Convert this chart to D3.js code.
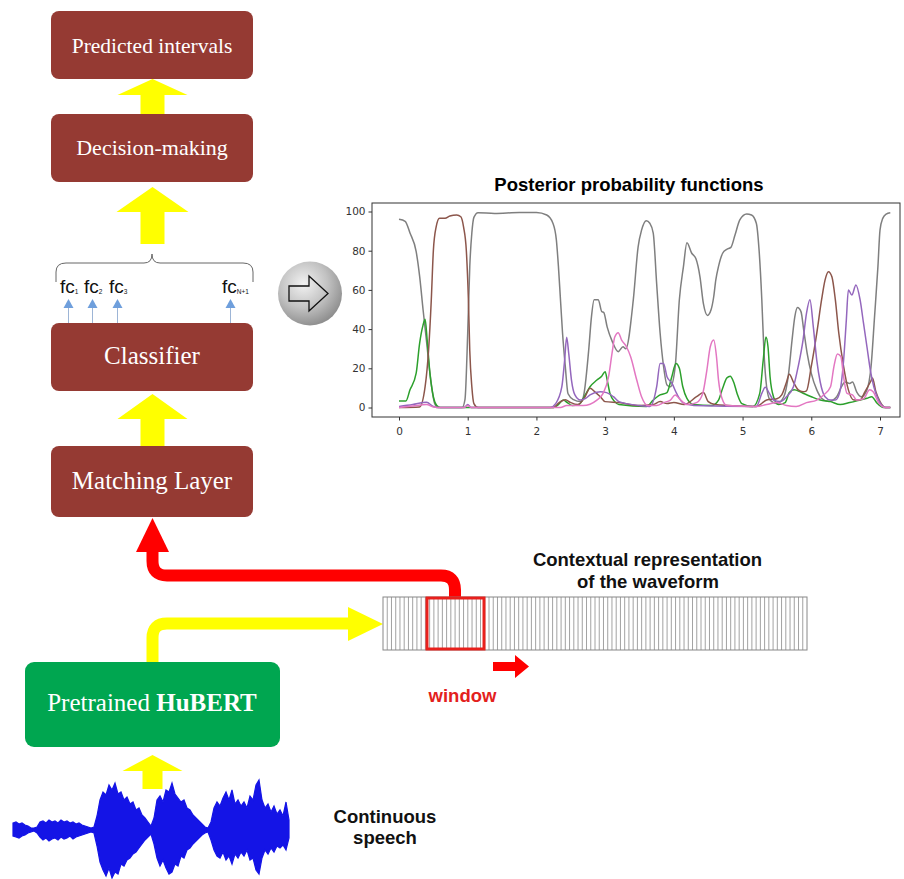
<!DOCTYPE html>
<html>
<head>
<meta charset="utf-8">
<script src="https://cdn.jsdelivr.net/npm/d3@7"></script>
<style>
  body { margin: 0; background: #fff; }
  svg { display: block; }
</style>
</head>
<body>
<svg id="fig" width="904" height="879"></svg>
<script>
// Posterior curves: [time (s), probability %]
const grayPts = [[0,96],[0.09,95],[0.16,89],[0.25,79.5],[0.3,67],[0.35,50],[0.4,34],[0.45,17.5],[0.52,2],[0.57,0],[0.92,0],[0.96,4],[1.0,38],[1.03,72],[1.06,89],[1.09,97],[1.15,99.4],[1.39,99],[1.75,99.5],[2.0,99.5],[2.15,98.2],[2.24,94],[2.29,85.5],[2.32,72],[2.35,55],[2.38,38],[2.42,21],[2.46,7],[2.54,4],[2.64,3],[2.68,5],[2.76,29],[2.8,46],[2.84,55],[2.9,55],[2.95,49],[2.98,48.5],[3.03,41],[3.1,34],[3.19,28.5],[3.26,31],[3.3,30],[3.41,55],[3.48,82],[3.53,90.5],[3.6,95.3],[3.65,94],[3.7,89],[3.75,63],[3.8,38],[3.85,21],[3.9,11.5],[3.95,10.6],[4.02,21],[4.08,55],[4.14,72],[4.19,84],[4.26,78.7],[4.32,76],[4.38,66.7],[4.43,53],[4.49,47],[4.54,49.7],[4.58,56.5],[4.61,65],[4.65,72],[4.71,78.7],[4.77,80.7],[4.83,81.7],[4.89,88],[4.96,95.7],[5.06,98.7],[5.13,98.2],[5.2,94],[5.24,80.4],[5.28,55],[5.31,29.3],[5.35,10.6],[5.4,3.8],[5.5,2],[5.6,5.5],[5.67,17.4],[5.72,34.4],[5.76,46.3],[5.8,51],[5.85,48.9],[5.89,39.5],[5.94,27.6],[6.0,17.4],[6.08,9],[6.15,4.7],[6.25,3],[6.37,5.5],[6.44,10.6],[6.49,13],[6.56,12.3],[6.6,13],[6.66,8],[6.73,5.5],[6.81,9],[6.87,21],[6.92,46],[6.97,72],[7.0,90.5],[7.04,96.5],[7.09,98.7],[7.15,99.4]];
const brownPts = [[0,0],[0.3,0.3],[0.38,10.6],[0.43,29],[0.47,55],[0.5,80],[0.54,92],[0.59,96.5],[0.67,96.5],[0.74,97.7],[0.84,98.2],[0.9,97.3],[0.94,92],[0.98,80],[1.01,55],[1.03,29],[1.06,10.6],[1.09,2],[1.15,0],[2.25,0],[2.33,2.5],[2.42,4],[2.5,2.5],[2.6,1.5],[2.7,5],[2.78,9.8],[2.85,8],[2.93,5.5],[3.0,3],[3.2,2.5],[3.5,1],[3.7,1.5],[3.8,3],[3.9,2],[4.0,2.5],[4.15,1.5],[4.33,5.5],[4.43,7.6],[4.5,3],[4.6,1.5],[4.8,1],[5.2,0.5],[5.35,3.8],[5.5,4.5],[5.57,6.4],[5.64,13],[5.68,17],[5.74,13],[5.81,9],[5.88,8],[5.93,8.5],[6.0,21],[6.08,38],[6.15,55],[6.2,65],[6.25,69.3],[6.3,66.7],[6.35,55],[6.4,38],[6.47,21],[6.54,9],[6.62,3.8],[6.71,3.8],[6.78,8],[6.86,13],[6.89,15],[6.94,8],[7.0,3],[7.08,0],[7.15,0]];
const greenPts = [[0,3.3],[0.1,3.3],[0.16,9],[0.25,17.5],[0.3,32.7],[0.35,42],[0.38,45],[0.41,34.4],[0.45,17.5],[0.5,5.5],[0.55,1],[0.6,0],[2.25,0],[2.32,1.5],[2.39,3.8],[2.45,2.5],[2.52,1],[2.62,1.5],[2.71,6.4],[2.78,10.6],[2.88,14],[2.95,16],[3.0,18.3],[3.03,14],[3.07,7.2],[3.14,3],[3.2,1.5],[3.6,0.5],[3.7,3.8],[3.8,6.4],[3.9,7.6],[3.97,15.7],[4.03,22.5],[4.08,20],[4.13,10.6],[4.19,4.7],[4.29,1.5],[4.55,1],[4.65,3.8],[4.71,9.8],[4.77,15],[4.82,16],[4.87,13],[4.92,7.2],[4.99,2],[5.15,0.5],[5.25,7.2],[5.3,24],[5.34,36],[5.37,31],[5.4,15.7],[5.45,5.5],[5.52,1.5],[5.62,2.5],[5.68,7.6],[5.75,9],[5.84,8],[5.9,7],[6.0,5.5],[6.13,3.8],[6.28,3],[6.42,1.5],[6.56,2.5],[6.71,3.8],[6.81,4.7],[6.88,5.5],[6.95,2.5],[7.05,0],[7.15,0]];
const purplePts = [[0,0.5],[0.2,1.5],[0.4,2.7],[0.5,0.5],[0.55,0],[0.95,0],[1.0,1.5],[1.05,0],[2.2,0],[2.28,2],[2.37,10.6],[2.41,24],[2.44,35.8],[2.47,27.6],[2.51,14],[2.56,6.4],[2.64,3.8],[2.71,4.5],[2.78,6.4],[2.93,8],[3.02,7.6],[3.12,5.5],[3.2,3],[3.5,1],[3.65,0.5],[3.75,10.6],[3.8,22.5],[3.85,22.5],[3.9,15.7],[3.97,12.5],[4.04,7.2],[4.13,2.5],[4.29,1],[5.2,0.5],[5.28,7.2],[5.33,10.3],[5.39,7.2],[5.45,3.8],[5.55,3],[5.64,5.5],[5.74,10.6],[5.81,21],[5.88,34.4],[5.93,48],[5.98,55],[6.03,41],[6.08,24],[6.13,13],[6.2,5.5],[6.28,3.8],[6.35,3.8],[6.41,7.2],[6.47,24],[6.51,44.6],[6.54,60],[6.59,57.4],[6.65,62.5],[6.71,55],[6.76,43],[6.81,31],[6.86,19],[6.91,10.6],[6.98,3.8],[7.08,0],[7.15,0]];
const pinkPts = [[0,0],[0.2,0.8],[0.4,1.5],[0.5,0.3],[0.55,0],[0.95,0],[1.0,1],[1.05,0],[2.35,0],[2.44,1],[2.68,1],[2.88,3.8],[2.97,7.2],[3.05,15.7],[3.1,27.6],[3.14,36],[3.19,38.2],[3.24,34.4],[3.31,31],[3.37,26],[3.46,14],[3.53,5.5],[3.62,1],[3.75,1],[3.85,2.5],[3.95,3.8],[4.02,6.4],[4.08,4.5],[4.19,1.5],[4.33,2.5],[4.42,7.2],[4.48,19],[4.53,31],[4.58,34.4],[4.62,26],[4.65,14],[4.7,4.7],[4.77,1],[5.2,0.5],[5.35,1.5],[5.5,2.5],[5.64,1],[5.78,0.5],[5.93,2.5],[6.08,3.8],[6.18,6.4],[6.28,10.6],[6.33,21],[6.38,27.3],[6.43,26],[6.47,15.7],[6.52,7.2],[6.6,6.4],[6.66,3.8],[6.76,4.5],[6.85,9],[6.9,8],[6.98,2.5],[7.08,0],[7.15,0]];

const xTicks = [0, 1, 2, 3, 4, 5, 6, 7];
const yTicks = [0, 20, 40, 60, 80, 100];

// pipeline boxes, bottom label has a bold part
const boxLabels = ["Predicted intervals", "Decision-making", "Classifier", "Matching Layer"];
const fcSubs = ["1", "2", "3", "N+1"];

// speech waveform envelope (px above / below centre), one value every 3px
const waveTop = [7,8,6,7,5,4,2,2,3,8,9,7,10,8,9,7,10,8,9,7,8,6,7,5,4,3,2,3,14,30,38,35,45,40,47,36,38,30,33,26,28,20,22,15,12,8,4,12,30,34,28,40,38,47,36,32,28,30,22,20,15,12,9,6,3,2,8,22,28,24,32,38,30,40,26,30,24,28,22,34,30,45,50,30,22,26,18,24,16,20,14,28,10];
const waveBot = [6,7,8,6,5,3,2,1,3,7,10,8,11,9,8,10,7,9,8,6,9,7,6,5,4,3,2,3,16,32,40,46,38,48,42,44,34,36,30,28,24,22,18,14,10,7,4,14,28,36,30,38,44,42,34,36,26,28,20,18,14,11,8,5,3,2,10,20,26,28,22,30,26,34,24,28,22,26,20,30,28,40,44,28,20,24,18,22,16,18,15,20,8];
const stripCells = 100;

const svg = d3.select("#fig");
svg.append("rect").attr("width", 904).attr("height", 879).attr("fill", "#fff");

const defs = svg.append("defs");
const grad = defs.append("radialGradient").attr("id", "ball")
    .attr("cx", "40%").attr("cy", "35%").attr("r", "68%");
grad.append("stop").attr("offset", "0%").attr("stop-color", "#f2f2f2");
grad.append("stop").attr("offset", "55%").attr("stop-color", "#c2c2c2");
grad.append("stop").attr("offset", "100%").attr("stop-color", "#8c8c8c");

const RED_BOX = "#953a33";
const YEL = "#ffff00";
const serif = "'Liberation Serif', 'Times New Roman', serif";
const sans = "'Liberation Sans', Arial, sans-serif";

// ---------- left column boxes ----------
const boxes = [
    {y: 11, h: 68, size: 21.5, base: 53},
    {y: 114, h: 68, size: 22, base: 155},
    {y: 323, h: 68, size: 25, base: 364},
    {y: 446, h: 71, size: 25, base: 489}
];
boxes.forEach(function(b, i) {
    svg.append("rect").attr("x", 51).attr("y", b.y).attr("width", 202).attr("height", b.h)
        .attr("rx", 8).attr("fill", RED_BOX);
    svg.append("text").attr("x", 152).attr("y", b.base).attr("text-anchor", "middle")
        .attr("font-family", serif).attr("font-size", b.size).attr("fill", "#fff")
        .text(boxLabels[i]);
});

// HuBERT box
svg.append("rect").attr("x", 25).attr("y", 662).attr("width", 255).attr("height", 85)
    .attr("rx", 9).attr("fill", "#00a650");
const hub = svg.append("text").attr("x", 152).attr("y", 711).attr("text-anchor", "middle")
    .attr("font-family", serif).attr("font-size", 25).attr("fill", "#fff");
hub.append("tspan").text("Pretrained ");
hub.append("tspan").attr("font-weight", "bold").text("HuBERT");

// block up-arrows
function upArrow(cx, apex, base, half, stemHalf, bottom) {
    const pts = [[cx, apex], [cx + half, base], [cx + stemHalf, base], [cx + stemHalf, bottom],
                 [cx - stemHalf, bottom], [cx - stemHalf, base], [cx - half, base]];
    svg.append("polygon").attr("points", pts.map(p => p.join(",")).join(" "))
        .attr("fill", YEL);
}
upArrow(152.5, 79, 95, 35, 12, 114);
upArrow(152.5, 187, 212, 36, 12, 244);
upArrow(152.5, 394, 419, 35, 12, 446);
upArrow(152.5, 755, 771, 30, 10, 789);

// brace over the fc outputs
svg.append("path")
    .attr("d", "M56,282 L56,272 Q56,263 66,263 L144,263 Q152,263 152,254 Q152,263 160,263 L243,263 Q253,263 253,272 L253,282")
    .attr("fill", "none").attr("stroke", "#666").attr("stroke-width", 1);

// fc labels and little blue arrows
const fcX = [60, 84, 109, 222];
fcSubs.forEach(function(s, i) {
    const t = svg.append("text").attr("x", fcX[i]).attr("y", 293)
        .attr("font-family", sans).attr("font-size", 19).attr("fill", "#111");
    t.append("tspan").text("fc");
    t.append("tspan").attr("font-size", 6.5).attr("dy", 1).text(s);
    const ax = fcX[i] + 8.5;
    svg.append("line").attr("x1", ax).attr("x2", ax).attr("y1", 307).attr("y2", 323)
        .attr("stroke", "#9db5d6").attr("stroke-width", 1);
    svg.append("polygon").attr("points", [[ax, 299], [ax + 5, 308], [ax - 5, 308]].map(p => p.join(",")).join(" "))
        .attr("fill", "#6f9fdc");
});

// grey ball with hollow arrow
svg.append("circle").attr("cx", 310).attr("cy", 293.5).attr("r", 32).attr("fill", "url(#ball)");
svg.append("polygon")
    .attr("points", "289,286 309,286 309,276 328,293.5 309,311 309,301 289,301")
    .attr("fill", "none").attr("stroke", "#111").attr("stroke-width", 1.3);

// red feedback arrow from window to matching layer
svg.append("path")
    .attr("d", "M455,598 L455,590 Q455,575.5 441,575.5 L167,575.5 Q152.5,575.5 152.5,561 L152.5,550")
    .attr("fill", "none").attr("stroke", "#ff0000").attr("stroke-width", 12);
svg.append("polygon").attr("points", "152.5,518 169,552 136,552").attr("fill", "#ff0000");

// yellow arrow from HuBERT to representation
svg.append("path")
    .attr("d", "M152.5,662 L152.5,638 Q152.5,623.5 167,623.5 L350,623.5")
    .attr("fill", "none").attr("stroke", YEL).attr("stroke-width", 12);
svg.append("polygon").attr("points", "348,607 383,624 348,641").attr("fill", YEL);

// contextual representation strip
const sx = d3.scaleLinear().domain([0, stripCells]).range([383, 807]);
svg.append("g").selectAll("line").data(d3.range(1, stripCells)).join("line")
    .attr("x1", d => sx(d)).attr("x2", d => sx(d)).attr("y1", 597).attr("y2", 650)
    .attr("stroke", "#8a8a8a").attr("stroke-width", 0.8);
svg.append("rect").attr("x", 383).attr("y", 597).attr("width", 424).attr("height", 53)
    .attr("fill", "none").attr("stroke", "#888").attr("stroke-width", 1);
svg.append("rect").attr("x", 427).attr("y", 598).attr("width", 57).attr("height", 51)
    .attr("fill", "none").attr("stroke", "#e8201c").attr("stroke-width", 3);
svg.append("polygon").attr("points", "493,662 515,662 515,655 529,666.5 515,678 515,671 493,671")
    .attr("fill", "#ff0000");
svg.append("text").attr("x", 462.5).attr("y", 702).attr("text-anchor", "middle")
    .attr("font-family", sans).attr("font-weight", "bold").attr("font-size", 18.5)
    .attr("fill", "#e3211c").text("window");
const ctx = svg.append("text").attr("text-anchor", "middle").attr("font-family", sans)
    .attr("font-weight", "bold").attr("font-size", 18.5).attr("fill", "#111");
ctx.append("tspan").attr("x", 647.5).attr("y", 566).text("Contextual representation");
ctx.append("tspan").attr("x", 648).attr("y", 588).text("of the waveform");

// waveform
const wx = d3.scaleLinear().domain([0, waveTop.length - 1]).range([13, 289]);
const wArea = d3.area().x((d, i) => wx(i)).y0((d, i) => 830 + waveBot[i]).y1((d, i) => 830 - waveTop[i]);
svg.append("path").datum(waveTop).attr("d", wArea)
    .attr("fill", "#1414e6").attr("stroke", "#1414e6").attr("stroke-width", 1.2);
svg.append("line").attr("x1", 13).attr("x2", 289).attr("y1", 830).attr("y2", 830)
    .attr("stroke", "#1414e6").attr("stroke-width", 1.5);
const cs = svg.append("text").attr("text-anchor", "middle").attr("font-family", sans)
    .attr("font-weight", "bold").attr("font-size", 18.5).attr("fill", "#111");
cs.append("tspan").attr("x", 385).attr("y", 823).text("Continuous");
cs.append("tspan").attr("x", 385).attr("y", 844).text("speech");

// ---------- posterior probability chart ----------
const x = d3.scaleLinear().domain([0, 7]).range([399, 880]);
const y = d3.scaleLinear().domain([0, 100]).range([407.5, 211.5]);
const frame = {l: 372, r: 900, t: 203, b: 417};

svg.append("text").attr("x", 629).attr("y", 191).attr("text-anchor", "middle")
    .attr("font-family", sans).attr("font-weight", "bold").attr("font-size", 18.5)
    .attr("fill", "#000").text("Posterior probability functions");

const xAxis = svg.append("g").attr("transform", `translate(0,${frame.b})`)
    .call(d3.axisBottom(x).tickValues(xTicks).tickSize(3.5).tickFormat(d3.format("d")));
const yAxis = svg.append("g").attr("transform", `translate(${frame.l},0)`)
    .call(d3.axisLeft(y).tickValues(yTicks).tickSize(3.5).tickFormat(d3.format("d")));
[xAxis, yAxis].forEach(function(a) {
    a.select(".domain").remove();
    a.selectAll("line").attr("stroke", "#333");
    a.selectAll("text").attr("font-family", "'DejaVu Sans', sans-serif").attr("font-size", 10.5).attr("fill", "#333");
});
xAxis.selectAll("text").attr("dy", "1.1em");

const line = d3.line().x(d => x(d[0])).y(d => y(d[1])).curve(d3.curveMonotoneX);
const series = [
    {pts: grayPts, color: "#7f7f7f"},
    {pts: greenPts, color: "#2ca02c"},
    {pts: brownPts, color: "#8c564b"},
    {pts: purplePts, color: "#9467bd"},
    {pts: pinkPts, color: "#e377c2"}
];
svg.append("g").selectAll("path").data(series).join("path")
    .attr("d", d => line(d.pts)).attr("fill", "none")
    .attr("stroke", d => d.color).attr("stroke-width", 1.5);

svg.append("rect").attr("x", frame.l).attr("y", frame.t)
    .attr("width", frame.r - frame.l).attr("height", frame.b - frame.t)
    .attr("fill", "none").attr("stroke", "#333").attr("stroke-width", 1);
</script>
</body>
</html>
